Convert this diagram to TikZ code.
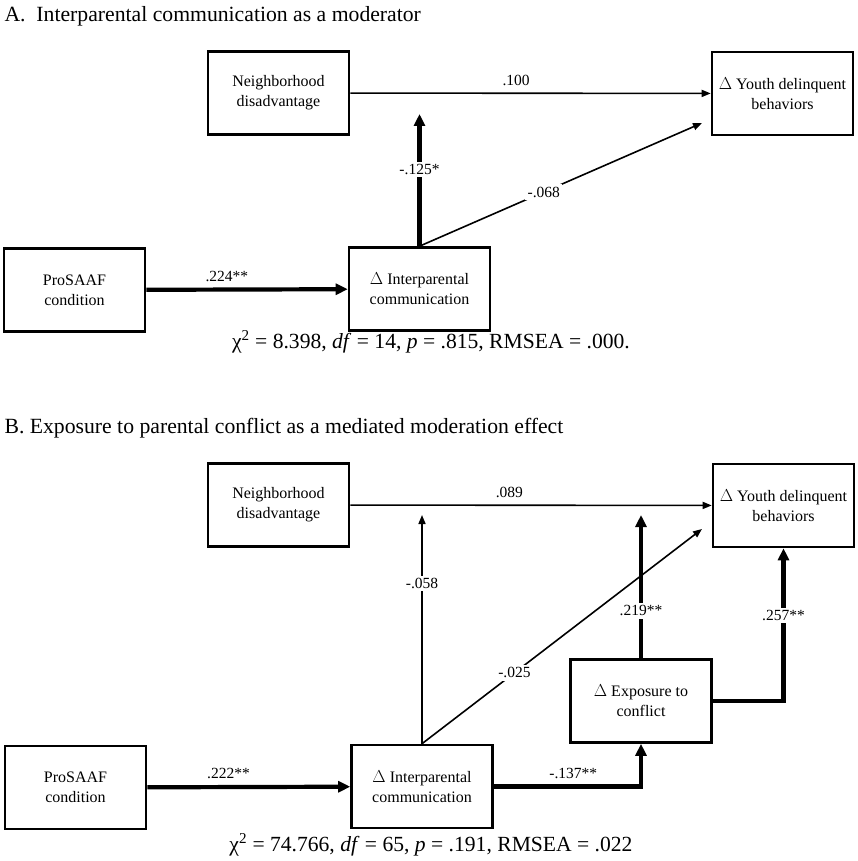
\documentclass[tikz,border=0pt]{standalone}
\usepackage{fontspec}
\setmainfont{Liberation Serif}
\usetikzlibrary{arrows.meta}
\usetikzlibrary{positioning}

\begin{document}
\begin{tikzpicture}[x=1pt,y=-1pt,
  box/.style={draw,line width=2.6pt,minimum width=141pt,minimum height=83pt,align=center,font=\fontsize{16}{20}\selectfont},
  thinpath/.style={line width=1.6pt,-{Triangle[length=9pt,width=7pt]}},
  thickpath/.style={line width=4.2pt,-{Triangle[length=12pt,width=11pt]}},
  coef/.style={font=\fontsize{15.5}{17}\selectfont,inner sep=1pt},
  cut/.style={coef,fill=white,inner sep=2.5pt},
  paneltitle/.style={anchor=west,font=\fontsize{21.7}{24}\selectfont},
  fitstat/.style={font=\fontsize{21.6}{24}\selectfont}]
\useasboundingbox (0,0) rectangle (858,861);

% panel A
\node[paneltitle] (titleA) at (1,16) {A.\hspace{0.5em}Interparental communication as a moderator};
\node[box] (ndA) at (278.5,93) {Neighborhood\\disadvantage};
\node[box] (ydA) at (782.5,93.5) {$\Delta$ Youth delinquent\\behaviors};
\node[box] (psA) at (74.5,290) {ProSAAF\\condition};
\node[box] (icA) at (419.5,289) {$\Delta$ Interparental\\communication};
\coordinate (modA) at (419.5,114);
\coordinate (dirA) at (702,123);

\draw[thinpath] (ndA) -- (ydA) node[coef,pos=0.46,above=6pt] {.100};
\draw[thickpath] (icA.north) -- (modA) node[cut,pos=0.58] {-.125*};
\draw[thinpath] (icA.north) -- (dirA) node[cut,pos=0.44] {-.068};
\draw[thickpath] (psA) -- (icA) node[coef,pos=0.4,above=5pt] {.224**};
\node[fitstat] (fitA) at (431,342) {χ\textsuperscript{2} = 8.398, \textit{df} = 14, \textit{p} = .815, RMSEA = .000.};

% panel B
\node[paneltitle] (titleB) at (1,428) {B. Exposure to parental conflict as a mediated moderation effect};
\node[box] (ndB) at (278.5,505) {Neighborhood\\disadvantage};
\node[box] (ydB) at (783.5,505.5) {$\Delta$ Youth delinquent\\behaviors};
\node[box] (psB) at (75.5,787.5) {ProSAAF\\condition};
\node[box] (icB) at (422,786.5) {$\Delta$ Interparental\\communication};
\node[box] (exB) at (641,701) {$\Delta$ Exposure to\\conflict};
\coordinate (modB) at (422,515);
\coordinate (medB) at (641,515);
\coordinate (dirB) at (702,529);

\draw[thinpath] (ndB) -- (ydB) node[coef,pos=0.44,above=6pt] {.089};
\draw[thinpath] (icB.north) -- (modB) node[cut,pos=0.70] {-.058};
\draw[thinpath] (icB.north) -- (dirB) node[cut,pos=0.33] {-.025};
\draw[thickpath] (exB.north) -- (medB) node[cut,pos=0.33] {.219**};
\draw[thickpath] (psB) -- (icB) node[coef,pos=0.4,above=5pt] {.222**};
\draw[thickpath] (icB.east) -| (exB.south) node[coef,pos=0.27,above=5pt] {-.137**};
\draw[thickpath] (exB.east) -| (ydB.south) node[cut,pos=0.78] {.257**};
\node[fitstat] (fitB) at (431,845) {χ\textsuperscript{2} = 74.766, \textit{df} = 65, \textit{p} = .191, RMSEA = .022};

\end{tikzpicture}
\end{document}
